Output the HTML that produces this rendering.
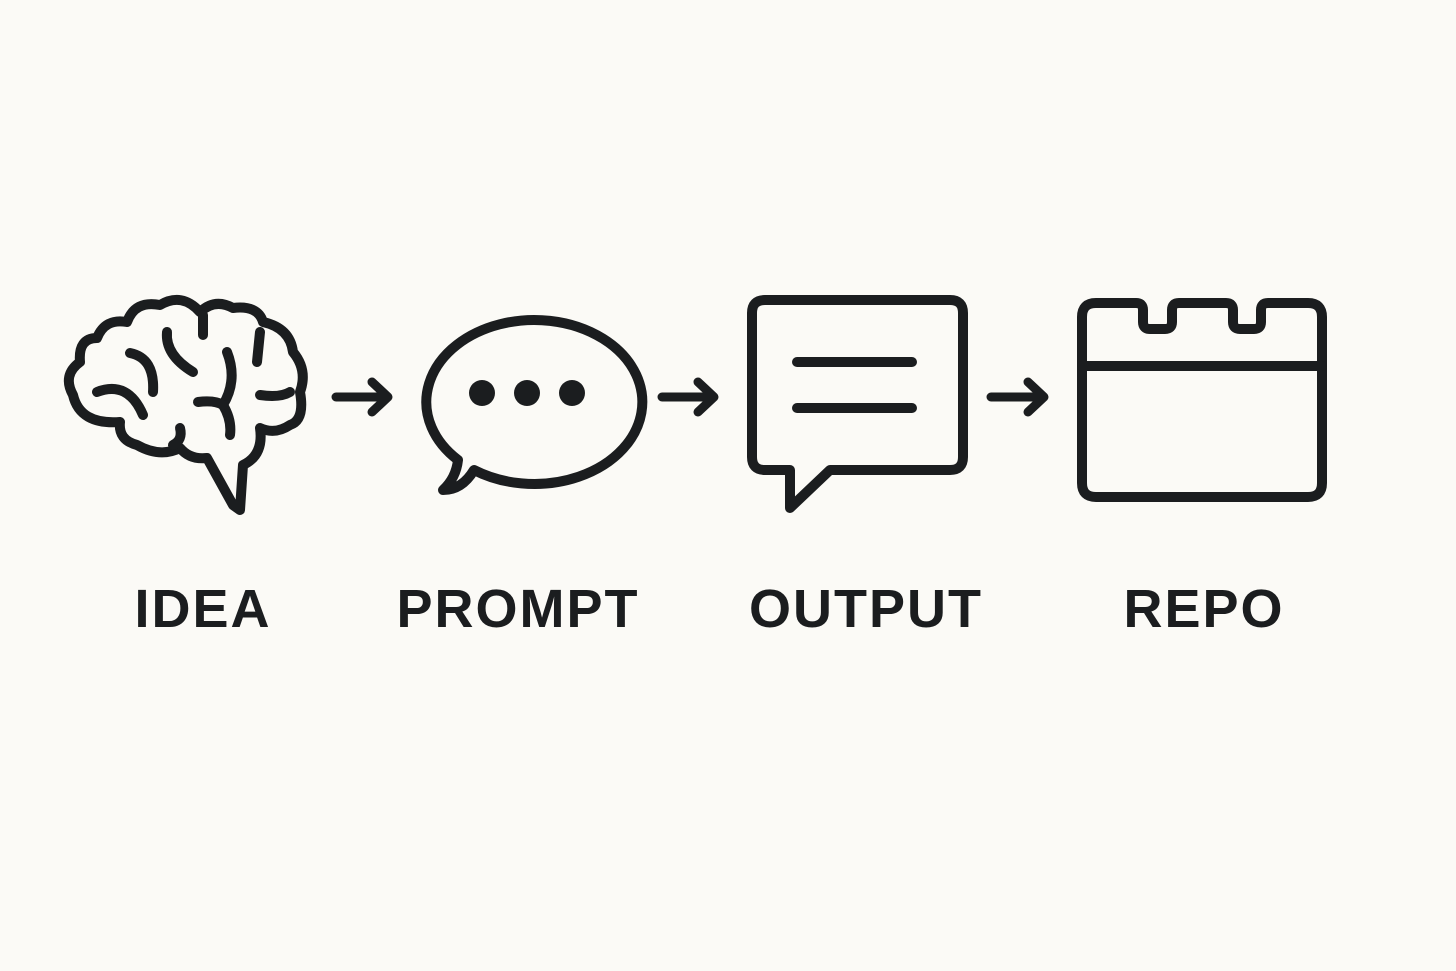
<!DOCTYPE html>
<html><head><style>
html,body{margin:0;padding:0;background:#fbfaf6;}
svg{display:block}
text{font-family:"Liberation Sans",sans-serif;font-weight:bold;font-size:54px;fill:#1b1d1f;letter-spacing:2px}
</style></head><body>
<svg width="1456" height="971" viewBox="0 0 1456 971">
<rect width="1456" height="971" fill="#fbfaf6"/>
<g fill="none" stroke="#1b1d1f" stroke-width="10" stroke-linecap="round" stroke-linejoin="round">
<!-- brain -->
<path d="M120 422 Q80 425 73 395 Q62 375 80 362 Q78 338 97 338 Q105 318 127 322 Q135 300 160 305 Q182 292 200 312 Q215 298 233 308 Q258 305 263 322 Q290 328 293 352 Q308 370 300 392 Q305 420 290 425 Q275 435 260 428 Q264 455 243 465 L240 510 L233 505 L207 458 Q190 460 180 448 Q160 458 137 445 Q118 440 120 422 Z"/>
<path d="M167 332 Q165 355 193 372"/>
<path d="M130 353 Q155 358 153 392"/>
<path d="M97 392 Q128 380 143 415"/>
<path d="M203 315 L203 335"/>
<path d="M260 332 L257 362"/>
<path d="M260 395 Q280 398 290 392"/>
<path d="M227 352 Q238 380 223 405 Q232 420 230 435"/>
<path d="M198 402 Q215 400 223 405"/>
<path d="M180 428 Q183 440 173 445"/>
<!-- arrows -->
<path d="M336 397 L386 397 M372 382 L388 397 L372 412" stroke-width="9"/>
<path d="M662 397 L712 397 M698 382 L714 397 L698 412" stroke-width="9"/>
<path d="M991 397 L1042 397 M1028 382 L1044 397 L1028 412" stroke-width="9"/>
<!-- speech bubble -->
<path d="M474 470 A108 82 0 1 0 458 460 Q456 478 443 490 Q462 490 474 470 Z"/>
<!-- output -->
<path d="M765 300 L950 300 Q963 300 963 313 L963 457 Q963 470 950 470 L830 470 L790 508 L790 470 L765 470 Q752 470 752 457 L752 313 Q752 300 765 300 Z"/>
<path d="M797 362 L912 362 M797 408 L912 408"/>
<!-- repo -->
<path d="M1096 303 L1136 303 Q1143 303 1143 310 L1143 322 Q1143 329 1150 329 L1165 329 Q1172 329 1172 322 L1172 310 Q1172 303 1179 303 L1226 303 Q1233 303 1233 310 L1233 322 Q1233 329 1240 329 L1254 329 Q1261 329 1261 322 L1261 310 Q1261 303 1268 303 L1308 303 Q1322 303 1322 317 L1322 483 Q1322 497 1308 497 L1096 497 Q1082 497 1082 483 L1082 317 Q1082 303 1096 303 Z"/>
<path d="M1082 366 L1322 366"/>
</g>
<g fill="#1b1d1f">
<circle cx="482" cy="393" r="13"/><circle cx="527" cy="393" r="13"/><circle cx="572" cy="393" r="13"/>
</g>
<text x="203" y="627" text-anchor="middle">IDEA</text>
<text x="518" y="627" text-anchor="middle">PROMPT</text>
<text x="866" y="627" text-anchor="middle">OUTPUT</text>
<text x="1204" y="627" text-anchor="middle">REPO</text>
</svg>
</body></html>
